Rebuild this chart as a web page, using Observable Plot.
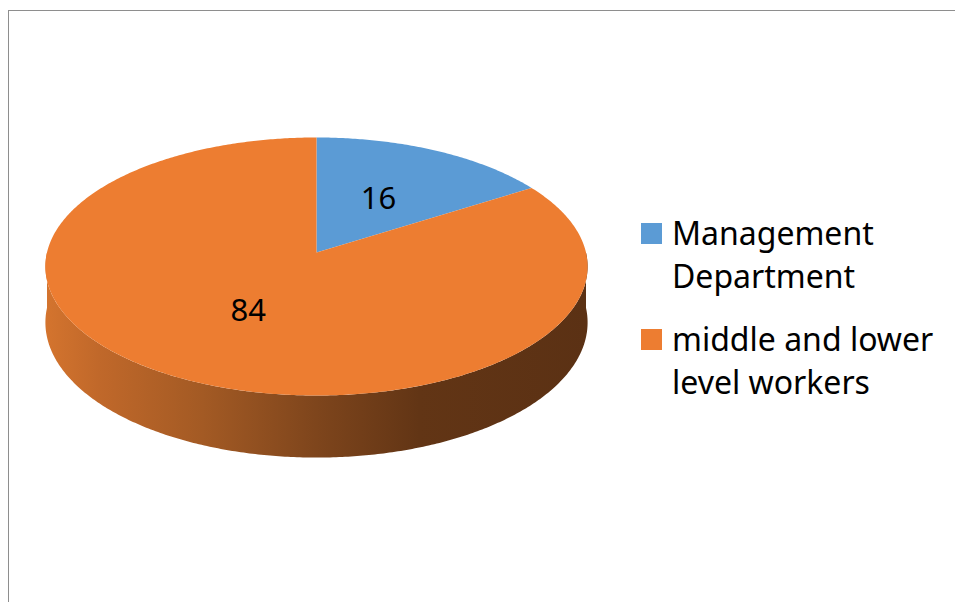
<!DOCTYPE html>
<html>
<head>
<meta charset="utf-8">
<script src="https://cdn.jsdelivr.net/npm/d3@7"></script>
<script src="https://cdn.jsdelivr.net/npm/@observablehq/plot@0.6"></script>
<style>
  body { margin: 0; background: #fff; }
  #wrap { position: relative; width: 955px; height: 602px; overflow: hidden; font-family: "Noto Sans", sans-serif; background: #fff; }
  #wrap svg { position: absolute; left: 0; top: 0; }
  #border { position: absolute; left: 7.5px; top: 9.5px; right: -10px; bottom: -10px; border-left: 1.5px solid #8e8e8e; border-top: 1.5px solid #8e8e8e; pointer-events: none; }
  .lg-sw { position: absolute; width: 21px; height: 21px; }
  .lg-tx { position: absolute; width: 272px; font-size: 32px; line-height: 43px; color: #000; }
</style>
</head>
<body>
<div id="wrap"><div id="border"></div></div>
<script>
// ---- data ----
const categories = ["Management Department", "middle and lower level workers"];
const values = [16, 84];
const colors = ["#5b9bd5", "#ed7d31"];

// ---- geometry helpers (3D pie projected with slight perspective) ----
const persp = 0.1085;   // perspective factor
const depth = 0.434;    // pie thickness in radius units
function proj(X, Z, h) {
  const s = 1 / (1 + persp * Z);
  return { x: X * s, y: Z * s - h * s };
}
const rows = categories.map((c, i) => ({ key: c, value: values[i] }));
const arcs = d3.pie().sort(null).value(d => d.value)(rows);

function arcPoints(a0, a1, h) {
  const n = Math.max(2, Math.ceil((a1 - a0) / 0.01));
  const pts = [];
  for (let k = 0; k <= n; k++) {
    const a = a0 + (a1 - a0) * k / n;
    pts.push(proj(Math.sin(a), Math.cos(a), h));
  }
  return pts;
}

const topRows = [];
const sideRows = {};
const labelRows = [];
for (const a of arcs) {
  const key = a.data.key;
  const c = proj(0, 0, 0);
  topRows.push({ key, ...c });
  for (const p of arcPoints(a.startAngle, a.endAngle, 0)) topRows.push({ key, ...p });
  topRows.push({ key, ...c });
  // visible outer wall (front half)
  const lo = Math.max(a.startAngle, Math.PI / 2), hi = Math.min(a.endAngle, 3 * Math.PI / 2);
  if (lo < hi) {
    const t = arcPoints(lo, hi, 0), b = arcPoints(lo, hi, depth).reverse();
    sideRows[key] = [...t, ...b].map(p => ({ key, ...p }));
  }
  const mid = (a.startAngle + a.endAngle) / 2;
  labelRows.push({ key, text: String(a.data.value), ...proj(0.5 * Math.sin(mid), 0.5 * Math.cos(mid), 0) });
}

const gradStops = {
  "middle and lower level workers": [[0, "#d4742e"], [0.1, "#c0682a"], [0.29, "#a35a24"], [0.5, "#7e451c"], [0.69, "#623515"], [1, "#5b3114"]],
  "Management Department": [[0, "#4f86b8"], [0.5, "#365d82"], [1, "#24405a"]]
};

const sideMarks = categories.filter(k => sideRows[k]).map(k =>
  Plot.line(sideRows[k], { x: "x", y: "y", fill: `url(#side-${categories.indexOf(k)})`, stroke: "none" })
);

const plot = Plot.plot({
  width: 955,
  height: 602,
  margin: 0,
  style: { fontFamily: "Noto Sans, sans-serif", background: "transparent", overflow: "visible" },
  x: { axis: null, domain: [-1, 1], range: [316 - 269.5, 316 + 269.5] },
  y: { axis: null, domain: [-1, 1], range: [252 + 127.5, 252 - 127.5] },
  color: { domain: categories, range: colors },
  marks: [
    ...sideMarks,
    Plot.line(topRows, { x: "x", y: "y", z: "key", fill: "key", stroke: "none" }),
    Plot.text(labelRows, { x: "x", y: "y", text: "text", fontSize: 31, fill: "#000" })
  ]
});

const defs = d3.select(plot).insert("defs", ":first-child");
categories.forEach((k, i) => {
  const g = defs.append("linearGradient").attr("id", `side-${i}`).attr("x1", 0).attr("x2", 1).attr("y1", 0).attr("y2", 0);
  for (const [o, c] of gradStops[k]) g.append("stop").attr("offset", o).attr("stop-color", c);
});

const wrap = document.getElementById("wrap");
wrap.insertBefore(plot, wrap.firstChild);

// ---- legend ----
const legendTops = [211, 317];
categories.forEach((k, i) => {
  const sw = document.createElement("div");
  sw.className = "lg-sw";
  sw.style.left = "641px";
  sw.style.top = (legendTops[i] + 12) + "px";
  sw.style.background = colors[i];
  wrap.appendChild(sw);
  const tx = document.createElement("div");
  tx.className = "lg-tx";
  tx.style.left = "672px";
  tx.style.top = legendTops[i] + "px";
  tx.textContent = k;
  wrap.appendChild(tx);
});
</script>
</body>
</html>
